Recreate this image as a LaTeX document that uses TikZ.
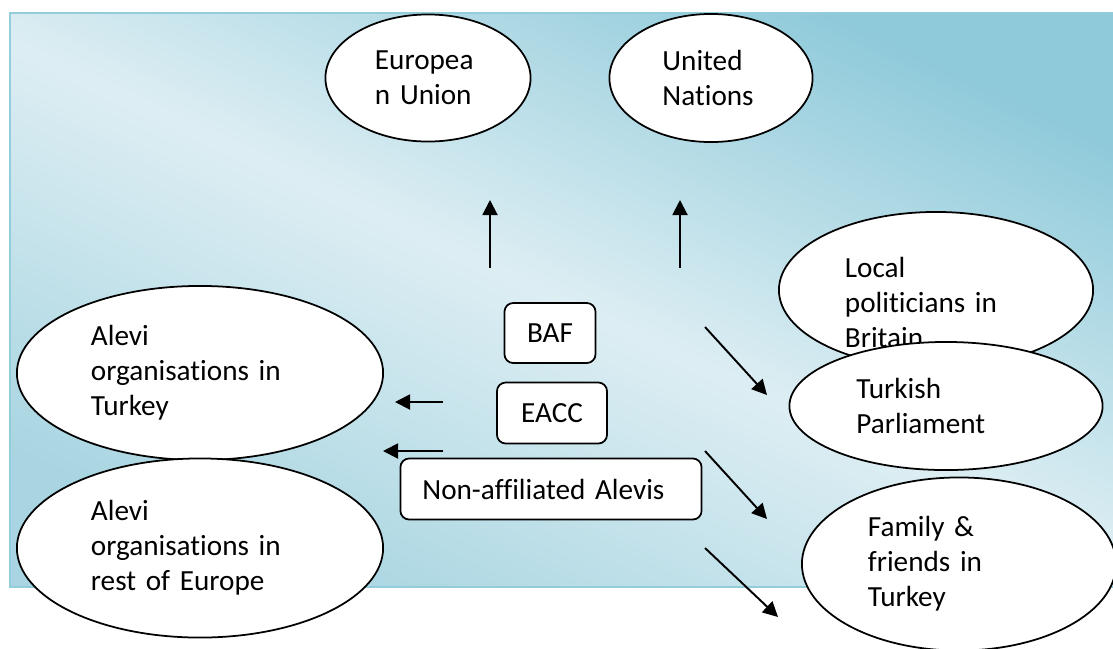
\documentclass[tikz,border=0pt]{standalone}
\usepackage{fontspec}
\setmainfont{Carlito}[Ligatures=NoCommon, Contextuals=NoAlternate]
\usetikzlibrary{arrows.meta,shapes.geometric}

\definecolor{panelline}{HTML}{93CDDC}
\definecolor{paneldark}{HTML}{8FCADA}
\definecolor{panellight}{HTML}{DDEEF3}
\definecolor{panelmid}{HTML}{A8D5E1}

\begin{document}
\begin{tikzpicture}[x=0.01cm, y=-0.01cm,
    font=\fontsize{8.3pt}{9.96pt}\selectfont,
    bubble/.style={ellipse, draw, fill=white, line width=0.5pt, inner sep=0pt, align=left},
    tag/.style={rectangle, rounded corners=2.5pt, draw, fill=white, line width=0.5pt, inner sep=0pt},
    arr/.style={-{Triangle[length=0.15cm,width=0.15cm]}, line width=0.55pt}]
            \useasboundingbox (0, 0) rectangle (1113, 648);
            %\draw[lightgray, step=100] (0, 0) grid (1113, 648);
            \draw[panelline, line width=0.6pt, top color=paneldark, bottom color=panelmid, middle color=panellight, shading angle=-25]
                (10, 13) rectangle (1114, 587);

            \node[bubble, minimum width=2.05cm, minimum height=1.27cm, text width=1.06cm] (eu) at (428, 78) {Europea\\n Union};
            \node[bubble, minimum width=2.03cm, minimum height=1.28cm, text width=0.97cm] (un) at (711, 78) {United\\Nations};
            \node[bubble, minimum width=3.14cm, minimum height=1.56cm, text width=1.82cm, text height=0.25cm, text depth=0.51cm] (local) at (936, 290) {Local\\politicians in\\Britain};
            \node[bubble, minimum width=3.13cm, minimum height=1.28cm, text width=1.79cm] (parl) at (946, 406) {Turkish\\Parliament};
            \node[bubble, minimum width=3.14cm, minimum height=1.73cm, text width=1.82cm] (family) at (959, 564) {Family \&\\friends in\\Turkey};
            \node[bubble, minimum width=3.66cm, minimum height=1.74cm, text width=2.18cm] (aleviTR) at (200, 373) {Alevi\\organisations in\\Turkey};
            \node[bubble, minimum width=3.66cm, minimum height=1.79cm, text width=2.18cm] (aleviEU) at (200, 548) {Alevi\\organisations in\\rest of Europe};

            \node[tag, minimum width=0.91cm, minimum height=0.60cm] (baf) at (550, 333) {BAF};
            \node[tag, minimum width=1.10cm, minimum height=0.61cm] (eacc) at (552, 413) {EACC};
            \node[tag, minimum width=3.01cm, minimum height=0.61cm, text width=2.57cm, align=left] (nonaff) at (551, 489) {Non-affiliated Alevis};

            \coordinate (euA) at (490, 268);
            \coordinate (euB) at (490, 200);
            \coordinate (unA) at (680, 268);
            \coordinate (unB) at (680, 200);
            \coordinate (trA) at (443, 402);
            \coordinate (trB) at (395, 402);
            \coordinate (eurA) at (443, 451);
            \coordinate (eurB) at (383, 451);
            \coordinate (parlA) at (705, 327);
            \coordinate (parlB) at (767, 395);
            \coordinate (famA) at (705, 451);
            \coordinate (famB) at (767, 519);
            \coordinate (fam2A) at (705, 548);
            \coordinate (fam2B) at (778, 617);

            \draw[arr] (euA) -- (euB);
            \draw[arr] (unA) -- (unB);
            \draw[arr] (trA) -- (trB);
            \draw[arr] (eurA) -- (eurB);
            \draw[arr] (parlA) -- (parlB);
            \draw[arr] (famA) -- (famB);
            \draw[arr] (fam2A) -- (fam2B);
        \end{tikzpicture}
\end{document}
